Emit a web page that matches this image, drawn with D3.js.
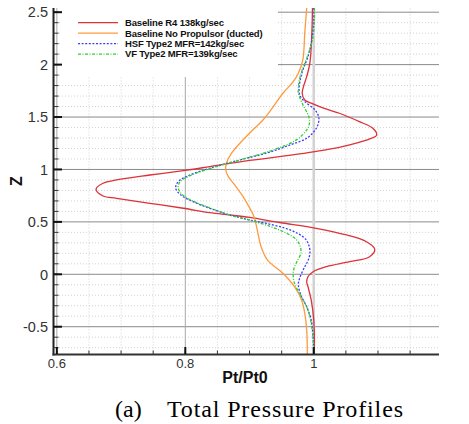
<!DOCTYPE html>
<html lang="en">
<head>
  <meta charset="utf-8">
  <title>Total Pressure Profiles</title>
  <script src="https://d3js.org/d3.v7.min.js"></script>
  <style>
  body {
    margin: 0;
    background: white;
  }

  .tick-label {
    font-family: "Liberation Sans", Arial, sans-serif;
    fill: #333;
  }

  .legend-text {
    font-family: "Liberation Sans", Arial, sans-serif;
    font-weight: bold;
    font-size: 9.5px;
    letter-spacing: -0.15px;
    fill: #111;
  }

  .axis-title {
    font-family: "Liberation Sans", Arial, sans-serif;
    font-weight: bold;
    fill: #111;
  }

  .caption {
    font-family: "Liberation Serif", "Times New Roman", serif;
    font-size: 24px;
    fill: #000;
  }
  </style>
</head>
<body>
<script>

// Profiles, [Pt/Pt0, Z]
var baselineR4 = [
  [0.998, 2.54], [0.997, 2.3], [0.994, 2.016], [0.989, 1.885], [0.984, 1.79],
  [0.982, 1.727], [0.986, 1.663], [0.996, 1.632], [1.009, 1.599], [1.040, 1.536],
  [1.071, 1.456], [1.092, 1.393], [1.098, 1.328], [1.090, 1.298], [1.056, 1.234],
  [1.014, 1.181], [0.978, 1.148], [0.900, 1.086], [0.838, 1.027], [0.797, 0.989],
  [0.745, 0.947], [0.693, 0.900], [0.672, 0.868], [0.661, 0.811], [0.672, 0.747],
  [0.693, 0.725], [0.745, 0.677], [0.797, 0.630], [0.838, 0.588], [0.869, 0.566],
  [0.900, 0.542], [0.947, 0.494], [1.004, 0.439], [1.051, 0.375], [1.082, 0.311],
  [1.095, 0.239], [1.087, 0.168], [1.056, 0.120], [1.020, 0.073], [0.999, 0.025],
  [0.991, -0.023], [0.989, -0.071], [0.991, -0.118], [0.996, -0.245], [1.000, -0.436],
  [1.001, -0.690], [1.000, -0.765]
];

var baselineNoProp = [
  [0.989, 2.54], [0.986, 2.3], [0.983, 2.045], [0.976, 1.918], [0.968, 1.838],
  [0.952, 1.727], [0.937, 1.599], [0.921, 1.472], [0.905, 1.377], [0.885, 1.250],
  [0.872, 1.155], [0.864, 1.059], [0.863, 0.995], [0.867, 0.931], [0.877, 0.852],
  [0.890, 0.740], [0.899, 0.645], [0.907, 0.550], [0.912, 0.423], [0.918, 0.263],
  [0.928, 0.136], [0.952, 0.010], [0.970, -0.118], [0.981, -0.245], [0.986, -0.372],
  [0.989, -0.531], [0.990, -0.765]
];

var hsfType2 = [
  [1.000, 2.54], [1.000, 2.43], [0.997, 2.236], [0.991, 2.076], [0.983, 1.949],
  [0.979, 1.854], [0.977, 1.759], [0.979, 1.700], [0.986, 1.647], [1.002, 1.568],
  [1.008, 1.489], [1.004, 1.393], [0.989, 1.298], [0.963, 1.234], [0.926, 1.155],
  [0.885, 1.091], [0.838, 1.011], [0.807, 0.947], [0.789, 0.884], [0.785, 0.821],
  [0.793, 0.757], [0.812, 0.693], [0.838, 0.630], [0.869, 0.566], [0.900, 0.518],
  [0.925, 0.487], [0.955, 0.440], [0.975, 0.390], [0.988, 0.330], [0.993, 0.263],
  [0.994, 0.200], [0.991, 0.130], [0.986, 0.073], [0.978, -0.038], [0.976, -0.100],
  [0.980, -0.200], [0.989, -0.309], [0.996, -0.436], [0.999, -0.595], [1.000, -0.765]
];

var vfType2 = [
  [1.001, 2.54], [1.001, 2.43], [0.998, 2.236], [0.990, 2.076], [0.982, 1.949],
  [0.977, 1.838], [0.976, 1.759], [0.976, 1.727], [0.982, 1.632], [0.990, 1.536],
  [0.993, 1.489], [0.993, 1.430], [0.989, 1.377], [0.973, 1.282], [0.937, 1.186],
  [0.885, 1.091], [0.840, 1.011], [0.810, 0.947], [0.792, 0.884], [0.789, 0.821],
  [0.796, 0.757], [0.814, 0.693], [0.840, 0.630], [0.869, 0.566], [0.900, 0.518],
  [0.935, 0.450], [0.958, 0.390], [0.973, 0.330], [0.979, 0.263], [0.980, 0.200],
  [0.975, 0.136], [0.970, 0.070], [0.968, 0.010], [0.970, -0.086], [0.981, -0.214],
  [0.991, -0.341], [0.996, -0.468], [0.999, -0.627], [1.000, -0.765]
];

var seriesNames = [
  "Baseline R4 138kg/sec",
  "Baseline No Propulsor (ducted)",
  "HSF Type2 MFR=142kg/sec",
  "VF Type2 MFR=139kg/sec"
];

var xTickValues = [0.6, 0.8, 1.0];
var xTickLabels = ["0.6", "0.8", "1"];
var yTickValues = [-0.5, 0, 0.5, 1, 1.5, 2, 2.5];
var yTickLabels = ["-0.5", "0", "0.5", "1", "1.5", "2", "2.5"];

// Display constants
var width = 469;
var height = 424;

var x = d3.scaleLinear().domain([0.594, 1.195]).range([53, 439]);
var y = d3.scaleLinear().domain([-0.765, 2.54]).range([354.5, 8]);

var series = [
  {name: seriesNames[0], data: baselineR4, color: "#dc3238", dash: null},
  {name: seriesNames[1], data: baselineNoProp, color: "#ff9a3c", dash: null},
  {name: seriesNames[2], data: hsfType2, color: "#3c3cff", dash: "2,1.6"},
  {name: seriesNames[3], data: vfType2, color: "#2ed12e", dash: "3,1.5,1,1.5"}
];

var svg = d3.select("body")
  .append("svg")
  .attr("width", width)
  .attr("height", height);

var grid = svg.append("g").attr("class", "grid");

// Minor grid lines (dotted)
var minorY = d3.range(-7, 26).map(function(i) { return i / 10; })
  .filter(function(v) { return Math.abs(v * 2 - Math.round(v * 2)) > 1e-6; });
var minorX = d3.range(12, 24).map(function(i) { return i / 20; })
  .filter(function(v) { return Math.abs(v * 5 - Math.round(v * 5)) > 1e-6; });

grid.selectAll(".minor-h")
  .data(minorY)
  .enter().append("line")
  .attr("x1", x.range()[0]).attr("x2", x.range()[1])
  .attr("y1", function(d) { return y(d); })
  .attr("y2", function(d) { return y(d); })
  .attr("stroke", "#c8c8c8")
  .attr("stroke-width", 0.8)
  .attr("stroke-dasharray", "1,2");

grid.selectAll(".minor-v")
  .data(minorX)
  .enter().append("line")
  .attr("x1", function(d) { return x(d); })
  .attr("x2", function(d) { return x(d); })
  .attr("y1", y.range()[0]).attr("y2", y.range()[1])
  .attr("stroke", "#c8c8c8")
  .attr("stroke-width", 0.8)
  .attr("stroke-dasharray", "1,2");

// Major grid lines
grid.selectAll(".major-h")
  .data(yTickValues)
  .enter().append("line")
  .attr("x1", x.range()[0]).attr("x2", x.range()[1])
  .attr("y1", function(d) { return y(d); })
  .attr("y2", function(d) { return y(d); })
  .attr("stroke", "#8a8a8a")
  .attr("stroke-width", 1);

grid.selectAll(".major-v")
  .data(xTickValues)
  .enter().append("line")
  .attr("x1", function(d) { return x(d); })
  .attr("x2", function(d) { return x(d); })
  .attr("y1", y.range()[0]).attr("y2", y.range()[1])
  .attr("stroke", function(d) { return d == 1.0 ? "#d2d2d2" : "#a8a8a8"; })
  .attr("stroke-width", function(d) { return d == 1.0 ? 2.6 : 1; });

// Legend background hides the grid behind it
svg.append("rect")
  .attr("x", 60)
  .attr("y", 0)
  .attr("width", 218)
  .attr("height", 77)
  .attr("fill", "white");

// Curves
var line = d3.line()
  .x(function(d) { return x(d[0]); })
  .y(function(d) { return y(d[1]); })
  .curve(d3.curveCatmullRom);

svg.selectAll(".profile")
  .data(series)
  .enter().append("path")
  .attr("class", "profile")
  .attr("fill", "none")
  .attr("stroke", function(d) { return d.color; })
  .attr("stroke-width", 1.3)
  .attr("stroke-dasharray", function(d) { return d.dash; })
  .attr("d", function(d) { return line(d.data); });

// Axes
var axes = svg.append("g").attr("class", "axes");

axes.append("line")
  .attr("x1", 53.5).attr("x2", 53.5)
  .attr("y1", y.range()[1]).attr("y2", y.range()[0] + 1)
  .attr("stroke", "#222").attr("stroke-width", 2);

axes.append("line")
  .attr("x1", 52.5).attr("x2", x.range()[1])
  .attr("y1", 354.5).attr("y2", 354.5)
  .attr("stroke", "#333").attr("stroke-width", 2.2);

// Y ticks
var yMinorTicks = d3.range(-7, 26).map(function(i) { return i / 10; });
axes.selectAll(".y-minor")
  .data(yMinorTicks)
  .enter().append("line")
  .attr("x1", 53.5).attr("x2", 58.5)
  .attr("y1", function(d) { return y(d); })
  .attr("y2", function(d) { return y(d); })
  .attr("stroke", "#333").attr("stroke-width", 1);

axes.selectAll(".y-major")
  .data(yTickValues)
  .enter().append("line")
  .attr("x1", 53.5).attr("x2", 62)
  .attr("y1", function(d) { return y(d); })
  .attr("y2", function(d) { return y(d); })
  .attr("stroke", "#111").attr("stroke-width", 2);

axes.selectAll(".y-label")
  .data(yTickValues)
  .enter().append("text")
  .attr("class", "tick-label")
  .attr("x", 48)
  .attr("y", function(d) { return y(d); })
  .attr("dy", "0.36em")
  .attr("text-anchor", "end")
  .style("font-size", "14.5px")
  .text(function(d, i) { return yTickLabels[i]; });

// X ticks
var xMinorTicks = d3.range(12, 24).map(function(i) { return i / 20; });
axes.selectAll(".x-minor")
  .data(xMinorTicks)
  .enter().append("line")
  .attr("x1", function(d) { return x(d); })
  .attr("x2", function(d) { return x(d); })
  .attr("y1", 354).attr("y2", 350.5)
  .attr("stroke", "#333").attr("stroke-width", 1);

axes.selectAll(".x-major")
  .data(xTickValues)
  .enter().append("line")
  .attr("x1", function(d) { return x(d); })
  .attr("x2", function(d) { return x(d); })
  .attr("y1", 354).attr("y2", 347)
  .attr("stroke", "#111").attr("stroke-width", 2);

axes.selectAll(".x-label")
  .data(xTickValues)
  .enter().append("text")
  .attr("class", "tick-label")
  .attr("x", function(d) { return x(d); })
  .attr("y", 368)
  .attr("text-anchor", "middle")
  .style("font-size", "13px")
  .text(function(d, i) { return xTickLabels[i]; });

// Axis titles
svg.append("text")
  .attr("class", "axis-title")
  .attr("x", 245)
  .attr("y", 383)
  .attr("text-anchor", "middle")
  .style("font-size", "16px")
  .text("Pt/Pt0");

svg.append("text")
  .attr("class", "axis-title")
  .attr("transform", "translate(21.5,181) rotate(-90)")
  .attr("text-anchor", "middle")
  .style("font-size", "16px")
  .text("Z");

// Legend
var legend = svg.append("g")
  .attr("class", "legend");

var legendRows = legend.selectAll("g")
  .data(series)
  .enter().append("g")
  .attr("transform", function(d, i) { return "translate(0," + (22.7 + i * 10.45) + ")"; });

legendRows.append("line")
  .attr("x1", 78).attr("x2", 118)
  .attr("y1", 0).attr("y2", 0)
  .attr("stroke", function(d) { return d.color; })
  .attr("stroke-width", 1.3)
  .attr("stroke-dasharray", function(d) { return d.dash; });

legendRows.append("text")
  .attr("class", "legend-text")
  .attr("x", 125)
  .attr("y", 3.4)
  .text(function(d) { return d.name; });

// Caption
svg.append("text")
  .attr("class", "caption")
  .attr("x", 115)
  .attr("y", 417)
  .text("(a)");

svg.append("text")
  .attr("class", "caption")
  .attr("x", 167)
  .attr("y", 417)
  .attr("textLength", 236)
  .attr("lengthAdjust", "spacing")
  .text("Total Pressure Profiles");
</script>
</body>
</html>
